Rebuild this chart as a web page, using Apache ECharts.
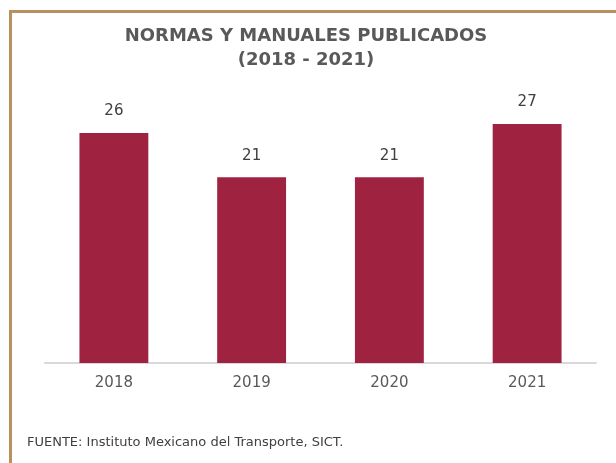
<!DOCTYPE html>
<html lang="es">
<head>
    <meta charset="UTF-8">
    <title>Normas y manuales publicados</title>
    <script src="https://cdn.jsdelivr.net/npm/echarts@6/dist/echarts.min.js"></script>
</head>
<style>
    body{ margin: 0; background: #fff; }
    #main{ width: 616px; height: 463px; }
</style>
<body>
<div id="main"></div>
<script>
    var years = ['2018', '2019', '2020', '2021'];
    var published = [26, 21, 21, 27];

    var myChart = echarts.init(document.getElementById('main'));
    var option = {
        animation: false,
        backgroundColor: '#fff',
        title: {
            text: 'NORMAS Y MANUALES PUBLICADOS\n(2018 - 2021)',
            left: 301,
            top: 19,
            textAlign: 'center',
            textStyle: {
                fontFamily: 'DejaVu Sans',
                fontWeight: 'bold',
                fontSize: 18,
                lineHeight: 24,
                color: '#595959'
            }
        },
        graphic: [
            // marco
            { type: 'rect', shape: { x: 9, y: 10, width: 607, height: 3 }, style: { fill: '#B8925E' } },
            { type: 'rect', shape: { x: 9, y: 10, width: 3, height: 453 }, style: { fill: '#B8925E' } },
            {
                type: 'text', left: 27, top: 436,
                style: {
                    text: 'FUENTE: Instituto Mexicano del Transporte, SICT.',
                    fontFamily: 'DejaVu Sans', fontSize: 13, fill: '#404040'
                }
            }
        ],
        grid: { left: 45, right: 20, top: 97.5, bottom: 100 },
        xAxis: {
            type: 'category',
            data: years,
            axisTick: { show: false },
            axisLine: { lineStyle: { color: '#d9d9d9', width: 2 } },
            axisLabel: { color: '#595959', fontFamily: 'DejaVu Sans', fontSize: 15, margin: 13 }
        },
        yAxis: {
            type: 'value',
            min: 0,
            max: 30,
            show: false,
            splitLine: { show: false }
        },
        series: [{
            type: 'bar',
            data: published,
            barWidth: '50%',
            itemStyle: { color: '#9F2241' },
            label: {
                show: true,
                position: 'top',
                distance: 14,
                color: '#404040',
                fontFamily: 'DejaVu Sans',
                fontSize: 15
            }
        }]
    };
    myChart.setOption(option);
</script>
</body>
</html>
